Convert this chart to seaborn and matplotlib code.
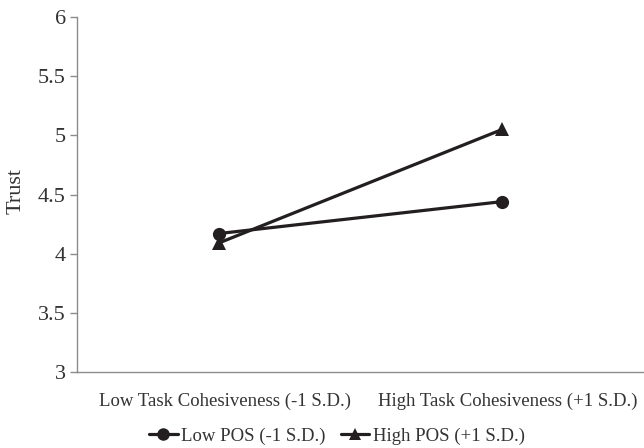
import matplotlib
matplotlib.use("Agg")
import matplotlib.pyplot as plt
import matplotlib.transforms as mtransforms
import seaborn as sns
import pandas as pd
from matplotlib.lines import Line2D

categories = ["Low Task Cohesiveness (-1 S.D.)", "High Task Cohesiveness (+1 S.D.)"]
low_pos = [4.17, 4.44]
high_pos = [4.09, 5.05]
series_names = ["Low POS (-1 S.D.)", "High POS (+1 S.D.)"]
y_ticks = [3, 3.5, 4, 4.5, 5, 5.5, 6]
y_tick_labels = ["3", "3.5", "4", "4.5", "5", "5.5", "6"]

df = pd.DataFrame({
    "x": list(range(len(categories))) * 2,
    "Trust": low_pos + high_pos,
    "series": [series_names[0]] * len(low_pos) + [series_names[1]] * len(high_pos),
})

sns.set_style("white")
plt.rcParams["font.family"] = ["Liberation Serif", "DejaVu Serif"]

fig = plt.figure(figsize=(6.44, 4.48), dpi=100)
ax = fig.add_axes([77 / 644, 76 / 448, 1 - 77 / 644, 355 / 448])

line_color = "#231f20"
sns.lineplot(data=df, x="x", y="Trust", hue="series", style="series",
             palette=[line_color, line_color], markers=["o", "^"], dashes=False,
             linewidth=2.3, markersize=9.5, markeredgewidth=0, ax=ax, legend=False)

ax.set_xlim(-0.5, 1.483)
ax.set_ylim(3, 6)
ax.set_yticks(y_ticks)
ax.set_yticklabels(y_tick_labels)
ax.set_xticks([0, 1])
ax.set_xticklabels(categories)
ax.set_xticks([-0.5, 0.5, 1.5], minor=True)
ax.tick_params(axis="x", which="major", length=0, pad=15, labelsize=13.5, colors="#333333")
ax.tick_params(axis="x", which="minor", length=5, width=1, color="#8c8c8c", direction="out")
ax.tick_params(axis="y", which="major", length=5, width=1, color="#8c8c8c", direction="out",
               labelsize=16, labelcolor="#333333", pad=3, left=True)
offset = mtransforms.ScaledTranslation(6 / 100, 0, fig.dpi_scale_trans)
for lbl in ax.get_xticklabels():
    lbl.set_transform(lbl.get_transform() + offset)
ax.set_xlabel("")
ax.set_ylabel("Trust", fontsize=16, color="#333333")
ax.yaxis.set_label_coords(-0.09, 0.51)

for s in ["top", "right"]:
    ax.spines[s].set_visible(False)
for s in ["left", "bottom"]:
    ax.spines[s].set_color("#8c8c8c")
    ax.spines[s].set_linewidth(1)

handles = [
    Line2D([], [], color=line_color, lw=2.3, marker="o", markersize=9, markeredgewidth=0),
    Line2D([], [], color=line_color, lw=2.3, marker="^", markersize=9, markeredgewidth=0),
]
leg = fig.legend(handles, series_names, loc="center", bbox_to_anchor=(337 / 644, 12 / 448),
                 ncol=2, frameon=False, fontsize=13.5, handlelength=1.5, handletextpad=0.2,
                 columnspacing=0.8, borderaxespad=0)
for t in leg.get_texts():
    t.set_color("#333333")

fig.savefig("out.png", dpi=100)
